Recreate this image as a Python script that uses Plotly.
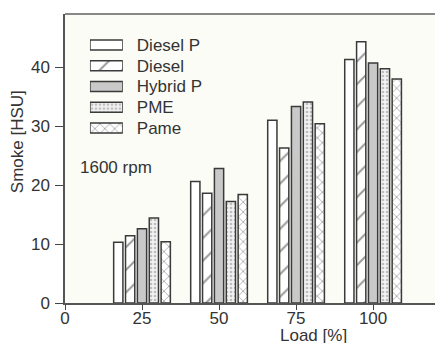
import plotly.graph_objects as go

loads = [25, 50, 75, 100]
series_names = ["Diesel P", "Diesel", "Hybrid P", "PME", "Pame"]
diesel_p = [10.3, 20.6, 31.0, 41.3]
diesel = [11.4, 18.6, 26.3, 44.3]
hybrid_p = [12.6, 22.8, 33.3, 40.7]
pme = [14.4, 17.2, 34.1, 39.7]
pame = [10.4, 18.4, 30.4, 38.0]
x_ticks = [0, 25, 50, 75, 100]
y_ticks = [0, 10, 20, 30, 40]

values = [diesel_p, diesel, hybrid_p, pme, pame]
fills = ["white", "white", "#c9c9c9", "#efefef", "white"]
patterns = [
    dict(shape=""),
    dict(shape="/", size=16, solidity=0.12, fgcolor="#333", bgcolor="white"),
    dict(shape=""),
    dict(shape=".", size=4, solidity=0.35, fgcolor="#888", bgcolor="#f2f2f2"),
    dict(shape="x", size=7, solidity=0.2, fgcolor="#333", bgcolor="white"),
]
outline = dict(color="#3a3a3a", width=1.5)

fig = go.Figure()
for name, vals, fc, pat in zip(series_names, values, fills, patterns):
    fig.add_trace(go.Bar(
        x=loads, y=vals, name=name, showlegend=False,
        marker=dict(color=fc, pattern=pat, line=outline),
    ))

# legend drawn as wide swatches on a small inset axis (labels = tick labels)
for name, fc, pat in zip(series_names, fills, patterns):
    fig.add_trace(go.Bar(
        y=[name], x=[1], orientation="h", xaxis="x2", yaxis="y2",
        width=0.48, offset=-0.24, showlegend=False, hoverinfo="skip",
        marker=dict(color=fc, pattern=pat, line=outline),
    ))

font = "Liberation Sans, Arial, sans-serif"
# page body has an 8px margin, so the figure is sized 8px smaller
fig.update_layout(
    width=435, height=335,
    margin=dict(l=57, r=0, t=6, b=40),
    paper_bgcolor="white",
    plot_bgcolor="#fcfcf6",
    barmode="group", bargap=0.23, bargroupgap=0.22,
    font=dict(family=font, size=17, color="#333"),
    showlegend=False,
    xaxis=dict(range=[0, 122.7], tickmode="array", tickvals=x_ticks,
               ticks="outside", ticklen=5, tickcolor="#444",
               showline=True, linecolor="#555", linewidth=1.5,
               showgrid=False, zeroline=False, tickfont=dict(size=17),
               ticklabelstandoff=-6),
    yaxis=dict(range=[0, 49], tickmode="array", tickvals=y_ticks,
               ticks="outside", ticklen=8, tickcolor="#444",
               showline=True, linecolor="#555", linewidth=1.5,
               showgrid=False, zeroline=False, tickfont=dict(size=17),
               ticklabelstandoff=2),
    xaxis2=dict(domain=[0.066, 0.153], range=[0, 1], anchor="y2",
                visible=False, fixedrange=True),
    yaxis2=dict(domain=[0.5696, 0.9287], anchor="x2", side="right",
                type="category", categoryorder="array", categoryarray=series_names,
                autorange="reversed", showline=False, showgrid=False,
                zeroline=False, ticks="", ticklabelstandoff=13,
                tickfont=dict(size=17, color="#333"), fixedrange=True),
    shapes=[dict(type="line", xref="paper", yref="paper", x0=0, x1=1, y0=1, y1=1,
                 line=dict(color="#888", width=2))],
    annotations=[
        dict(text="Load [%]", xref="x", yref="paper", x=80.5, y=-0.114,
             xanchor="center", yanchor="middle", showarrow=False,
             font=dict(size=17, color="#333")),
        dict(text="1600 rpm", xref="x", yref="y", x=4.2, y=22.9,
             xanchor="left", yanchor="middle", showarrow=False,
             font=dict(size=17, color="#333")),
        dict(text="Smoke [HSU]", xref="paper", yref="paper", x=-0.127, y=0.56,
             xanchor="center", yanchor="middle", showarrow=False, textangle=-90,
             font=dict(size=17, color="#333")),
    ],
)

fig.write_html("out.html")
